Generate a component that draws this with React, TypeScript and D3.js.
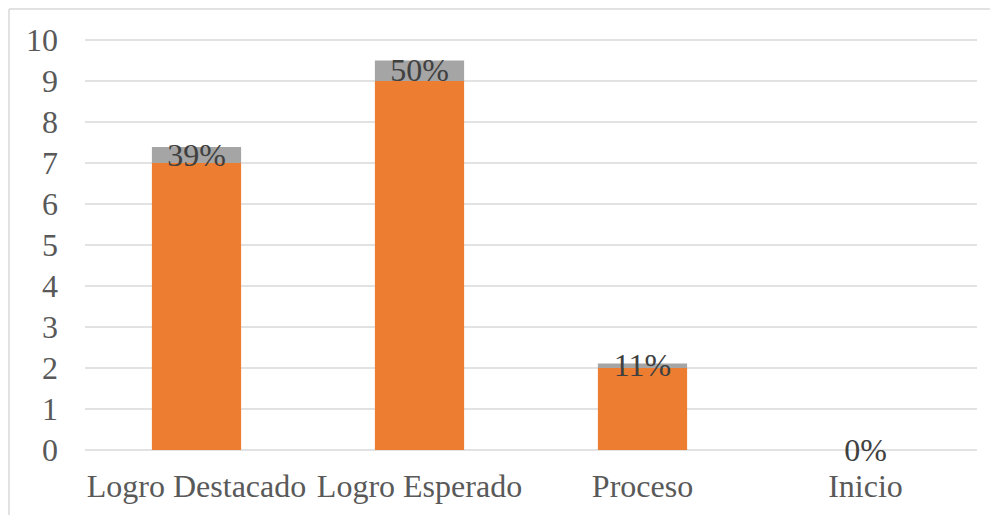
import React from "react";
import * as d3 from "d3";

const categories = ["Logro Destacado", "Logro Esperado", "Proceso", "Inicio"];
const counts = [7, 9, 2, 0];
const shares = [0.39, 0.5, 0.11, 0];
const shareLabels = ["39%", "50%", "11%", "0%"];
const yTicks = [0, 1, 2, 3, 4, 5, 6, 7, 8, 9, 10];

const W = 990;
const H = 515;
const left = 85;
const right = 977;
const top = 40;
const bottom = 450;

export default function App() {
  const x = d3.scaleBand<string>().domain(categories).range([left, right]).paddingInner(0.6).paddingOuter(0.3);
  const y = d3.scaleLinear().domain([0, 10]).range([bottom, top]);
  const font = "'Liberation Serif', 'Times New Roman', serif";
  const textColor = "#595959";
  const ts = { fontFamily: font, fontSize: "32px" };
  return (
    <svg width={W} height={H} style={{ position: "absolute", left: 0, top: 0 }}>
      <rect x={0} y={0} width={W} height={H} fill="#fff" />
      <line x1={9} x2={W} y1={9} y2={9} stroke="#d9d9d9" strokeWidth={1.5} />
      <line x1={9} x2={9} y1={9} y2={H} stroke="#d9d9d9" strokeWidth={1.5} />
      {yTicks.map((t) => (
        <g key={t}>
          <line x1={left} x2={right} y1={y(t)} y2={y(t)} stroke="#d9d9d9" strokeWidth={1.3} />
          <text x={58} y={y(t)} dy="0.33em" textAnchor="end" style={ts} fill={textColor}>
            {t}
          </text>
        </g>
      ))}
      {categories.map((c, i) => {
        const bx = x(c) as number;
        const bw = x.bandwidth();
        const cx = bx + bw / 2;
        const y0 = y(0);
        const y1 = y(counts[i]);
        const y2 = y(counts[i] + shares[i]);
        return (
          <g key={c}>
            {counts[i] > 0 && <rect x={bx} y={y1} width={bw} height={y0 - y1} fill="#ed7d31" />}
            {shares[i] > 0 && <rect x={bx} y={y2} width={bw} height={y1 - y2} fill="#a5a5a5" />}
            <text x={cx} y={(y1 + y2) / 2} dy="0.33em" textAnchor="middle" style={ts} fill="#404040">
              {shareLabels[i]}
            </text>
            <text x={cx} y={497} textAnchor="middle" style={ts} fill={textColor}>
              {c}
            </text>
          </g>
        );
      })}
    </svg>
  );
}
